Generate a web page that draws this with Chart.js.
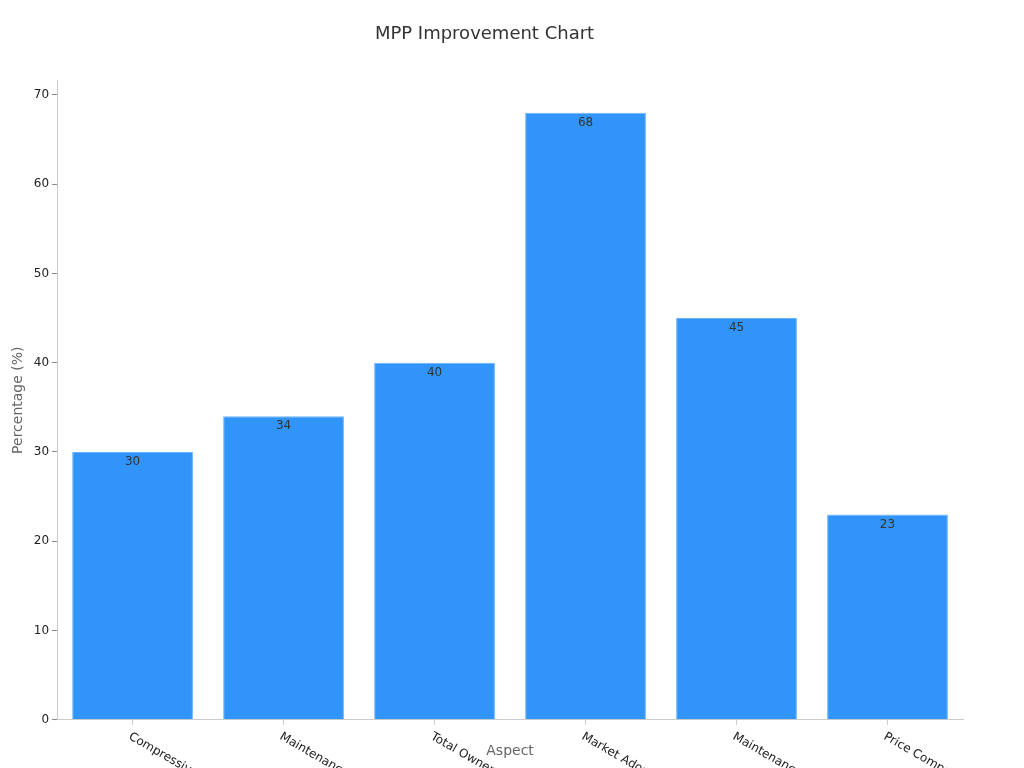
<!DOCTYPE html>
<html><head><meta charset="utf-8">
<script src="https://cdn.jsdelivr.net/npm/chart.js@4"></script>
<style>html,body{margin:0;padding:0;background:#fff}#c{display:block}</style>
</head><body>
<canvas id="c" width="1024" height="768"></canvas>
<script>
const categories = ["Compressive Strength","Maintenance Cost Reduction","Total Ownership Cost","Market Adoption","Maintenance Cost in Rail","Price Comparison"];
const values = [30,34,40,68,45,23];
const yTicks = [0,10,20,30,40,50,60,70];
const FONT = "'DejaVu Sans', sans-serif";

const rotLabels = {
  id:'rotLabels',
  afterDraw(chart){
    const ctx=chart.ctx, xs=chart.scales.x, ys=chart.scales.y;
    ctx.save();
    ctx.font="12px "+FONT; ctx.fillStyle="#222"; ctx.textAlign="left"; ctx.textBaseline="middle";
    categories.forEach((c,i)=>{
      const x=xs.getPixelForValue(i), y=ys.bottom+16;
      ctx.save(); ctx.translate(x-3,y); ctx.rotate(30*Math.PI/180); ctx.fillText(c,0,0); ctx.restore();
    });
    const meta=chart.getDatasetMeta(0);
    ctx.fillStyle="#333"; ctx.textAlign="center"; ctx.textBaseline="top";
    meta.data.forEach((b,i)=>ctx.fillText(String(values[i]),b.x,b.y+4));
    ctx.restore();
  }
};

new Chart(document.getElementById('c'),{
  type:'bar',
  data:{labels:categories,datasets:[{data:values,backgroundColor:'#3094f8',borderColor:'#6cb4fa',borderWidth:1,barPercentage:0.8,categoryPercentage:1}]},
  options:{
    responsive:false,animation:false,
    layout:{padding:{left:6,right:61,top:2,bottom:0}},
    plugins:{legend:{display:false},tooltip:{enabled:false},
      title:{display:true,text:'MPP Improvement Chart',font:{family:FONT,size:18,weight:'normal'},color:'#333',padding:{top:22,bottom:35}}},
    scales:{
      x:{grid:{drawOnChartArea:false,drawTicks:true,tickLength:5,color:'#ccc',offset:false},border:{color:'#ccc'},
        ticks:{font:{family:FONT,size:12},color:'rgba(0,0,0,0)',maxRotation:0,minRotation:0,padding:2,callback:()=>' '},
        title:{display:true,text:'Aspect',font:{family:FONT,size:14},color:'#666',padding:{top:0,bottom:8}}},
      y:{min:0,max:71.6,grid:{drawOnChartArea:false,drawTicks:true,tickLength:5,color:'#888'},border:{color:'#ccc'},
        afterBuildTicks(s){s.ticks=yTicks.map(v=>({value:v}));},
        ticks:{font:{family:FONT,size:12},color:'#222'},
        title:{display:true,text:'Percentage (%)',font:{family:FONT,size:14},color:'#666'}}
    }
  },
  plugins:[rotLabels]
});
</script>
</body></html>
